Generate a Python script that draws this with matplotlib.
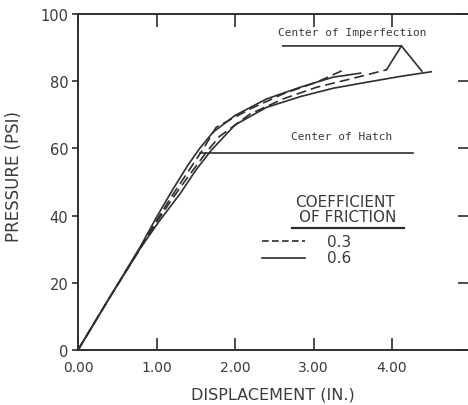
import matplotlib
matplotlib.use("Agg")
import matplotlib.pyplot as plt

# ---- data ----
imp06_x = [0, 0.4, 0.8, 1.0, 1.2, 1.4, 1.55, 1.72, 2.0, 2.4, 2.83, 3.25, 3.6]
imp06_y = [0, 15.5, 31, 39.5, 47.5, 55, 60, 64.8, 69.8, 74.7, 78.2, 81.2, 82.4]

imp03_x = [0, 0.4, 0.8, 1.0, 1.2, 1.4, 1.6, 1.76, 2.19, 2.61, 3.04, 3.38]
imp03_y = [0, 15.5, 30.5, 38.5, 46, 53, 60, 66.3, 71.7, 76.2, 79.7, 83.3]

hat03_x = [0, 0.4, 0.8, 1.0, 1.2, 1.4, 1.64, 1.8, 2.19, 2.61, 3.04, 3.46, 3.93]
hat03_y = [0, 15.5, 30.5, 38, 45, 51.5, 59, 63.5, 70.2, 74.7, 78.2, 80.6, 83.4]

hat06_x = [0, 0.4, 0.8, 1.04, 1.3, 1.5, 1.7, 2.0, 2.4, 2.83, 3.25, 3.68, 4.1, 4.38, 4.5]
hat06_y = [0, 15.5, 30.5, 38.5, 46.5, 53.5, 59.5, 67.0, 72.2, 75.4, 77.9, 79.7, 81.4, 82.4, 82.8]

# annotation leader lines
imp_lead_x = [2.61, 4.12, 4.38]
imp_lead_y = [90.5, 90.5, 83.0]
imp_leg_x = [4.12, 3.93]
imp_leg_y = [90.5, 83.4]
hat_lead_x = [1.55, 4.27]
hat_lead_y = [58.6, 58.6]

# legend pieces
leg_line_x = [2.34, 2.89]
leg_dash_y = 32.4
leg_solid_y = 27.4
leg_under_x = [2.73, 4.15]
leg_under_y = 36.3
friction_labels = ["0.3", "0.6"]

x_ticks = [0, 1, 2, 3, 4]
x_ticklabels = ["0.00", "1.00", "2.00", "3.00", "4.00"]
y_ticks = [0, 20, 40, 60, 80, 100]
y_ticklabels = ["0", "20", "40", "60", "80", "100"]

INK = "#2e2e2e"
TXT = "#3a3a3a"

fig = plt.figure(figsize=(4.68, 4.06), dpi=100)
ax = fig.add_axes([78/468, 55/406, 390/468, 336/406])
ax.set_xlim(0, 390/78.5)
ax.set_ylim(0, 100)

lw = 1.2
ax.plot(imp06_x, imp06_y, color=INK, lw=lw)
ax.plot(hat06_x, hat06_y, color=INK, lw=lw)
ax.plot(imp03_x, imp03_y, color=INK, lw=lw, dashes=(6, 3))
ax.plot(hat03_x, hat03_y, color=INK, lw=lw, dashes=(6, 3))

ax.plot(imp_lead_x, imp_lead_y, color=INK, lw=1.2)
ax.plot(imp_leg_x, imp_leg_y, color=INK, lw=1.2)
ax.plot(hat_lead_x, hat_lead_y, color=INK, lw=1.2)

mono = "DejaVu Sans Mono"
ax.text(3.49, 94.6, "Center of Imperfection", family=mono, fontsize=8,
        ha="center", va="center", color=TXT)
ax.text(3.36, 63.6, "Center of Hatch", family=mono, fontsize=8,
        ha="center", va="center", color=TXT)

ax.text(3.40, 44.3, "COEFFICIENT", fontsize=11, ha="center", va="center", color=TXT)
ax.text(3.44, 39.6, "OF FRICTION", fontsize=11, ha="center", va="center", color=TXT)
ax.plot(leg_under_x, [leg_under_y]*2, color=INK, lw=1.6)
ax.plot(leg_line_x, [leg_dash_y]*2, color=INK, lw=lw, dashes=(4, 2))
ax.plot(leg_line_x, [leg_solid_y]*2, color=INK, lw=lw)
ax.text(3.17, leg_dash_y, friction_labels[0], fontsize=11, ha="left", va="center", color=TXT)
ax.text(3.17, leg_solid_y, friction_labels[1], fontsize=11, ha="left", va="center", color=TXT)

for s in ["left", "bottom", "top"]:
    ax.spines[s].set_linewidth(1.4)
    ax.spines[s].set_color(INK)
ax.spines["right"].set_visible(False)

ax.set_xticks(x_ticks)
ax.set_xticklabels(x_ticklabels)
ax.set_yticks(y_ticks)
ax.set_yticklabels(y_ticklabels)
ax.tick_params(axis="x", which="both", direction="in", length=9, width=1.2,
               top=True, bottom=True, pad=7, labelsize=10, colors=INK, labelcolor=TXT)
ax.tick_params(axis="y", which="both", direction="out", length=4, width=1.2,
               left=True, right=False, pad=1, labelsize=10.5, colors=INK, labelcolor=TXT)

# right-side inward ticks
ax.tick_params(axis="y", right=True, direction="inout", length=12)
for t in ax.yaxis.get_major_ticks():
    t.tick1line.set_markersize(4)
    t.tick1line.set_marker(matplotlib.lines.TICKLEFT)
    t.tick2line.set_markersize(14)

ax.set_xlabel("DISPLACEMENT (IN.)", fontsize=11.5, color=TXT, va="center")
ax.set_ylabel("PRESSURE (PSI)", fontsize=12, color=TXT, va="center")
ax.xaxis.set_label_coords(0.5, -0.131)
ax.yaxis.set_label_coords(-0.163, 0.518)

fig.savefig("out.png", dpi=100)
